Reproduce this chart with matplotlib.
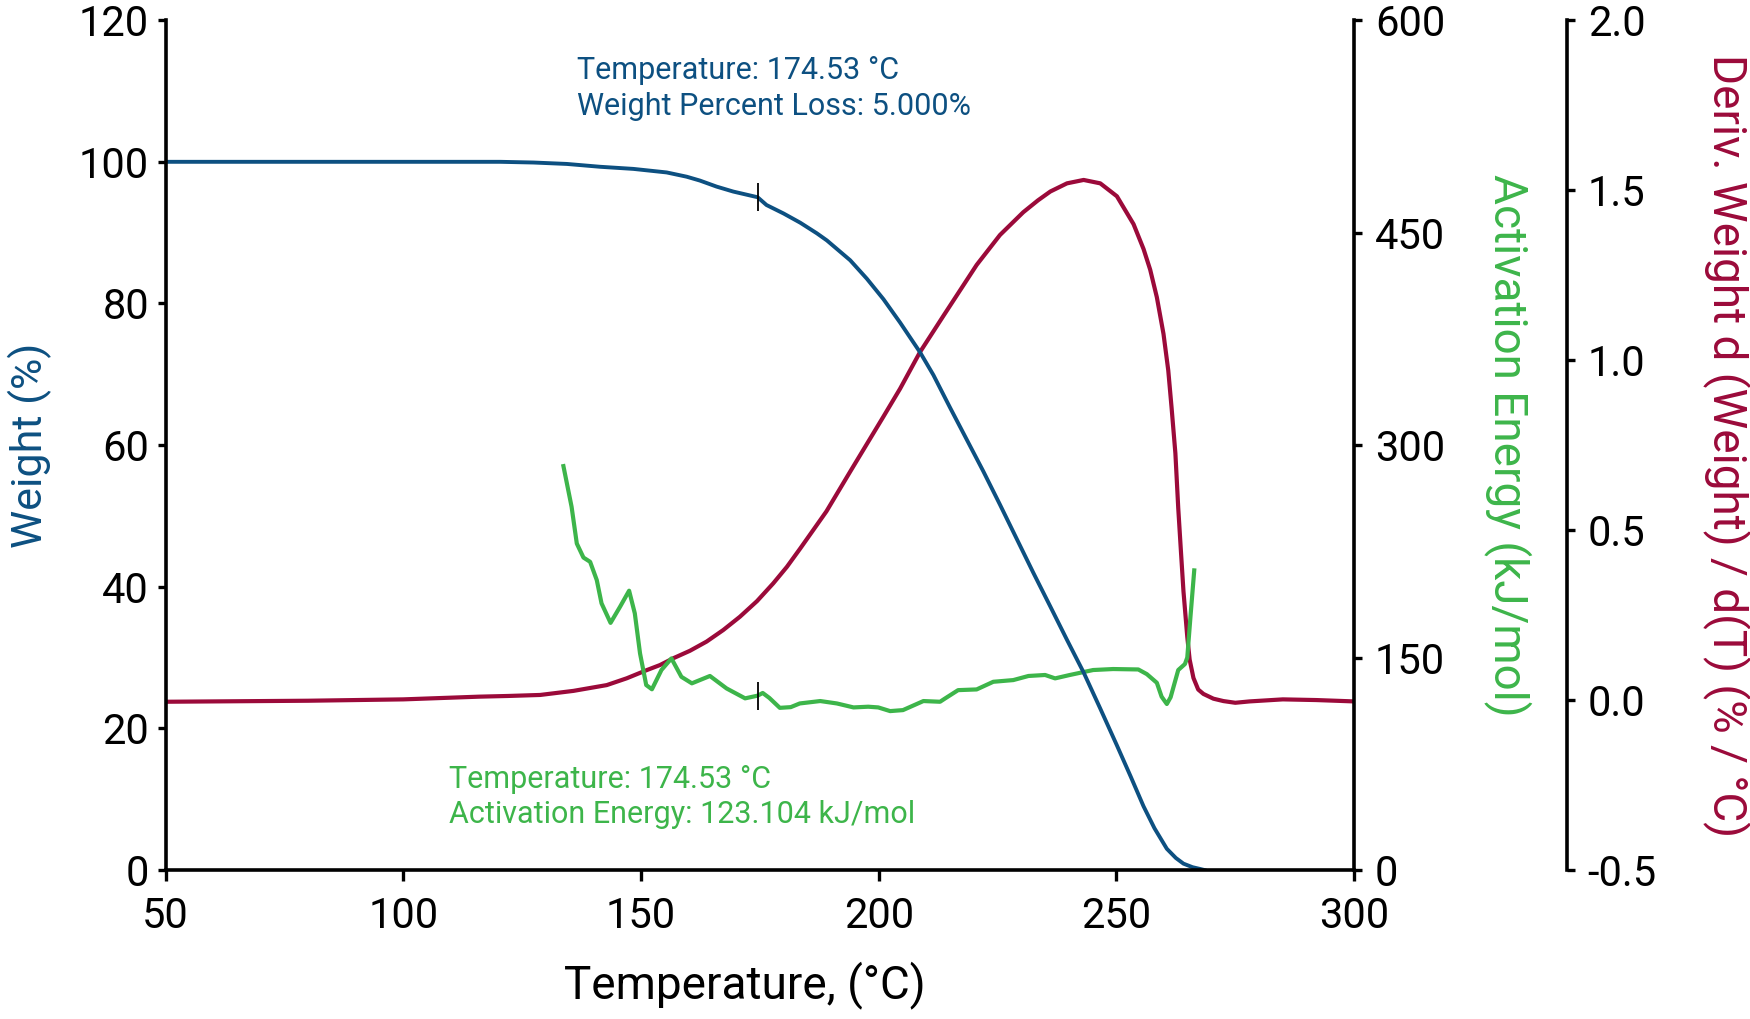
import matplotlib

matplotlib.use("Agg")

import matplotlib.pyplot as plt
from matplotlib.ticker import FormatStrFormatter

plt.rcParams["font.family"] = ["Roboto", "DejaVu Sans"]

BLUE = "#0d5081"
RED = "#9b0a3a"
GREEN = "#3db54a"

# weight curve (left axis)
weight_temp = [50, 80, 110, 120.4, 127.4, 134.4, 141.4, 148.4, 155.4, 159.6, 162.4, 165.9, 169.4,
               174.53, 176.4, 180.0, 183.5, 187.0, 189.1, 194.0, 197.5, 201.0, 204.5, 208.7,
               211.5, 215.0, 218.5, 222.0, 225.5, 229.0, 232.5, 236.1, 239.6, 243.1, 246.6,
               250.1, 253.0, 255.7, 258.0, 260.6, 262.5, 264.1, 266.0, 267.6, 268.5]
weight_pct = [100, 100, 100, 100.0, 99.9, 99.7, 99.3, 99.0, 98.5, 97.9, 97.35, 96.5, 95.8,
              95.0, 93.9, 92.7, 91.4, 89.9, 88.9, 86.1, 83.5, 80.6, 77.3, 73.1,
              69.9, 65.3, 60.8, 56.3, 51.6, 46.8, 42.0, 37.2, 32.5, 27.9, 22.8,
              17.6, 13.2, 9.0, 5.9, 3.0, 1.7, 0.9, 0.4, 0.15, 0.0]

# derivative weight curve (third axis)
deriv_temp = [50, 80, 100, 116, 122, 128.8, 135.8, 142.8, 147.0, 151.2, 154.0, 156.8, 160.3,
              163.8, 167.3, 170.8, 174.4, 177.8, 180.7, 183.5, 189.0, 194.0, 201.0, 204.5,
              208.7, 213.6, 220.6, 225.5, 230.4, 233.5, 236.1, 239.6, 243.1, 246.6, 250.1, 253.6,
              255.7, 257.1, 258.5, 259.9, 260.9, 261.6, 262.4, 263.0, 263.6, 264.1, 264.9,
              265.4, 266.2, 267.2, 268.3, 270.4, 272.5, 275, 278, 285, 292, 300]
deriv_val = [-0.005, -0.002, 0.002, 0.01, 0.012, 0.015, 0.027, 0.044, 0.064, 0.088, 0.103, 0.123,
             0.145, 0.172, 0.206, 0.245, 0.291, 0.343, 0.392, 0.446, 0.555, 0.672, 0.834, 0.916,
             1.024, 1.13, 1.28, 1.368, 1.435, 1.47, 1.496, 1.52, 1.53, 1.52, 1.482, 1.40,
             1.327, 1.266, 1.185, 1.077, 0.97, 0.86, 0.726, 0.565, 0.43, 0.32, 0.186,
             0.119, 0.065, 0.031, 0.018, 0.004, -0.003, -0.008, -0.004, 0.002, 0.0, -0.004]

# activation energy curve (right axis)
act_temp = [133.6, 135.4, 136.5, 137.9, 139.3, 140.7, 141.7, 143.6, 145.6, 147.5, 148.7, 149.8,
            151.1, 152.3, 154.3, 156.4, 158.5, 160.7, 164.5, 168.0, 171.9, 174.53, 175.6, 177.0,
            179.2, 181.5, 183.4, 187.7, 191.2, 194.7, 197.8, 199.9, 202.4, 205.1, 209.4, 212.9,
            213.9, 216.7, 220.6, 224.1, 228.3, 231.5, 235.0, 237.1, 240.2, 245.1, 249.3, 254.6,
            256.4, 258.5, 259.5, 260.6, 261.4, 263.0, 264.4, 264.9, 265.6, 266.4]
act_energy = [286.6, 256.5, 230.5, 220.6, 217.6, 204.7, 188.3, 174.5, 185.9, 197.2, 181.2, 152.9,
              130.6, 127.6, 141.2, 149.4, 136.4, 131.8, 137.0, 128.2, 121.2, 123.1, 125.0, 121.5,
              114.5, 115.0, 117.6, 119.3, 117.6, 114.8, 115.3, 114.8, 112.2, 112.9, 119.3, 118.8,
              121.0, 127.0, 127.5, 132.9, 134.1, 137.0, 137.7, 135.3, 137.7, 141.2, 141.9, 141.6,
              138.3, 132.2, 122.4, 117.2, 122.0, 141.2, 145.4, 150.0, 180.0, 213.0]

mark_temp = 174.53
mark_weight = 95.0
mark_energy = 123.104

x_ticks = [50, 100, 150, 200, 250, 300]
weight_ticks = [0, 20, 40, 60, 80, 100, 120]
energy_ticks = [0, 150, 300, 450, 600]
deriv_ticks = [-0.5, 0.0, 0.5, 1.0, 1.5, 2.0]

fig = plt.figure(figsize=(17.5, 10.19), dpi=100)
ax = fig.add_axes([0.0946, 0.1462, 0.6792, 0.834])
ax_e = ax.twinx()
ax_d = ax.twinx()

# blue curve on top, then green, then red
ax.set_zorder(3)
ax.patch.set_visible(False)
ax_e.set_zorder(2)
ax_d.set_zorder(1)

ax_d.plot(deriv_temp, deriv_val, color=RED, lw=3.0, solid_joinstyle="round")
ax_e.plot(act_temp, act_energy, color=GREEN, lw=3.0, solid_joinstyle="round",
          solid_capstyle="butt")
ax_e.plot([mark_temp], [mark_energy], marker="|", color="black", ms=20, mew=1.3)
ax.plot(weight_temp, weight_pct, color=BLUE, lw=2.8, solid_joinstyle="round")
ax.plot([mark_temp], [mark_weight], marker="|", color="black", ms=20, mew=1.3)

ax.set_xlim(50, 300)
ax.set_ylim(0, 120)
ax_e.set_ylim(0, 600)
ax_d.set_ylim(-0.5, 2.0)

ax.set_xticks(x_ticks)
ax.set_yticks(weight_ticks)
ax_e.set_yticks(energy_ticks)
ax_d.set_yticks(deriv_ticks)
ax_d.yaxis.set_major_formatter(FormatStrFormatter("%.1f"))

for side in ["top", "right"]:
    ax.spines[side].set_visible(False)
for a in (ax_e, ax_d):
    for side in ["top", "left", "bottom"]:
        a.spines[side].set_visible(False)
ax_d.spines["right"].set_position(("axes", 1.179))

for a in (ax, ax_e, ax_d):
    for sp in a.spines.values():
        sp.set_linewidth(2.6)

ax.tick_params(axis="y", direction="out", length=6, width=2.4, labelsize=30, pad=6)
ax.tick_params(axis="x", direction="out", length=8, width=2.4, labelsize=30, pad=11)
ax_e.tick_params(axis="y", direction="out", length=6, width=2.4, labelsize=30, pad=9)
ax_d.tick_params(axis="y", direction="out", length=6, width=2.4, labelsize=30, pad=9)

ax.set_xlabel("Temperature, (°C)", fontsize=33)
ax.xaxis.set_label_coords(0.4875, -0.107)
ax.set_ylabel("Weight (%)", fontsize=31, color=BLUE)
ax.yaxis.set_label_coords(-0.0955, 0.5)

ax.text(1.129, 0.5, "Activation Energy (kJ/mol)", transform=ax.transAxes, rotation=270,
        ha="center", va="center", fontsize=33, color=GREEN)
ax.text(1.314, 0.5, "Deriv. Weight d (Weight) / d(T) (% / °C)", transform=ax.transAxes,
        rotation=270, ha="center", va="center", fontsize=33, color=RED)

ax.text(136.6, 112.9, "Temperature: 174.53 °C", color=BLUE, fontsize=22, va="center")
ax.text(136.6, 107.8, "Weight Percent Loss: 5.000%", color=BLUE, fontsize=22, va="center")
ax.text(109.7, 12.85, "Temperature: 174.53 °C", color=GREEN, fontsize=22, va="center")
ax.text(109.7, 7.9, "Activation Energy: 123.104 kJ/mol", color=GREEN, fontsize=22, va="center")

fig.savefig("out.png", dpi=100)
plt.close(fig)
